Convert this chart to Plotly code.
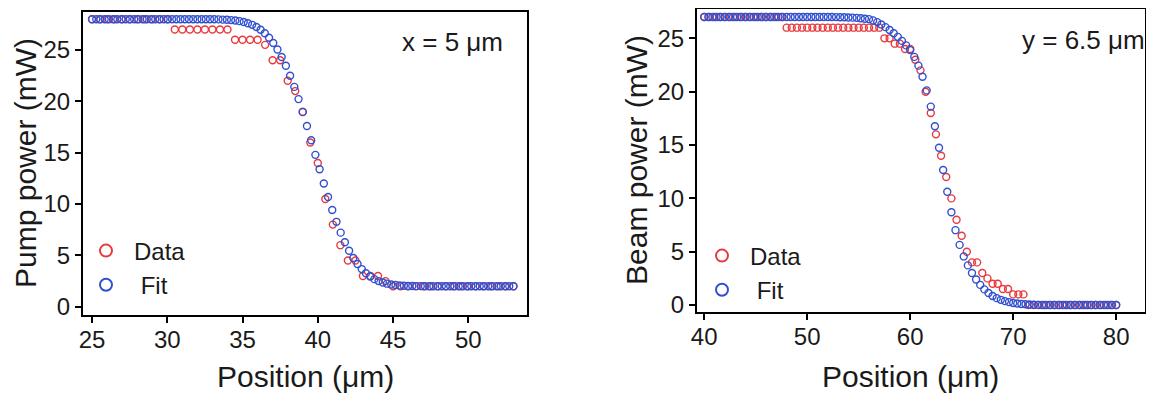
import plotly.graph_objects as go

# ---------------- data ----------------
# Left panel: pump power vs position at x = 5 um
pump_data_start, pump_data_step = 25.0, 0.5
pump_data = [28, 28, 28, 28, 28, 28, 28, 28, 28, 28, 28,
             27, 27, 27, 27, 27, 27, 27, 27,
             26, 26, 26, 26,
             25.5, 24, 24, 22, 21, 19, 16, 14, 10.5, 8, 6, 4.5, 4.5, 3, 3, 3, 2.5,
             2, 2, 2, 2, 2, 2, 2, 2, 2, 2, 2, 2, 2, 2, 2, 2, 2]
pump_fit_start, pump_fit_step = 25.0, 0.28
pump_fit = [28.0, 28.0, 28.0, 28.0, 28.0, 28.0, 28.0, 28.0, 28.0, 28.0,
            28.0, 28.0, 28.0, 28.0, 28.0, 28.0, 28.0, 28.0, 28.0, 28.0,
            28.0, 28.0, 28.0, 28.0, 28.0, 28.0, 28.0, 28.0,
            27.99, 27.99, 27.98, 27.96, 27.94, 27.91, 27.87, 27.81, 27.72, 27.61,
            27.45, 27.24, 26.97, 26.63, 26.20, 25.68, 25.05, 24.32, 23.46, 22.50,
            21.41, 20.22, 18.95, 17.60, 16.21, 14.79, 13.39, 12.01, 10.69, 9.43,
            8.27, 7.22, 6.28, 5.46, 4.75, 4.16, 3.67, 3.27, 2.95, 2.69,
            2.50, 2.36, 2.25, 2.17, 2.12, 2.08, 2.05, 2.03, 2.02, 2.01, 2.01,
            2.0, 2.0, 2.0, 2.0, 2.0, 2.0, 2.0, 2.0, 2.0, 2.0, 2.0,
            2.0, 2.0, 2.0, 2.0, 2.0, 2.0, 2.0, 2.0, 2.0, 2.0, 2.0]

# Right panel: beam power vs position at y = 6.5 um
beam_data_start, beam_data_step = 40.0, 0.5
beam_data = [27, 27, 27, 27, 27, 27, 27, 27, 27, 27, 27, 27, 27, 27, 27, 27,
             26, 26, 26, 26, 26, 26, 26, 26, 26, 26, 26, 26, 26, 26, 26, 26, 26, 26, 26,
             25, 25, 24.5, 24.5, 24, 24, 23, 22, 20, 18, 16, 14, 12, 10, 8, 6.5, 5, 4, 4, 3,
             2.5, 2, 2, 1.5, 1.5, 1, 1, 1,
             0, 0, 0, 0, 0, 0, 0, 0, 0, 0, 0, 0, 0, 0, 0, 0, 0, 0]
beam_fit_start, beam_fit_step = 40.0, 0.4
beam_fit = [27.0, 27.0, 27.0, 27.0, 27.0, 27.0, 27.0, 27.0, 27.0, 27.0,
            27.0, 27.0, 27.0, 27.0, 27.0, 27.0, 27.0, 27.0, 27.0, 27.0,
            27.0, 27.0, 27.0, 27.0, 27.0, 27.0, 27.0, 27.0, 27.0, 27.0,
            27.0, 27.0,
            26.99, 26.98, 26.97, 26.95, 26.94, 26.92, 26.88, 26.84, 26.80, 26.68,
            26.52, 26.30, 26.05, 25.78, 25.48, 25.14, 24.76, 24.34, 23.90, 23.26,
            22.44, 21.40, 20.12, 18.60, 16.76, 14.74, 12.66, 10.62, 8.70, 7.02,
            5.64, 4.56, 3.72, 3.00, 2.40, 1.89, 1.47, 1.13, 0.85, 0.65,
            0.49, 0.37, 0.28, 0.20, 0.14, 0.10, 0.07, 0.05, 0.03, 0.02,
            0.01, 0.01,
            0.0, 0.0, 0.0, 0.0, 0.0, 0.0, 0.0, 0.0, 0.0, 0.0,
            0.0, 0.0, 0.0, 0.0, 0.0, 0.0, 0.0]

legend_names = ["Data", "\u00a0Fit"]
x_title = "Position (\u03bcm)"
left_y_title = "Pump power (mW)"
right_y_title = "Beam power (mW)"
left_label = "x = 5 \u03bcm"
right_label = "y = 6.5 \u03bcm"

# ---------------- style ----------------
RED = "#e8383c"
BLUE = "#3050d0"
FONT = "Arial, 'Liberation Sans', sans-serif"
TXT = "#1a1a1a"


def marker(color):
    return dict(symbol="circle-open", size=7, color=color, line=dict(color=color, width=1.4))


fig = go.Figure()
fig.add_trace(go.Scatter(x0=pump_data_start, dx=pump_data_step, y=pump_data, mode="markers",
                         marker=marker(RED), name=legend_names[0], legend="legend",
                         xaxis="x", yaxis="y"))
fig.add_trace(go.Scatter(x0=pump_fit_start, dx=pump_fit_step, y=pump_fit, mode="markers",
                         marker=marker(BLUE), name=legend_names[1], legend="legend",
                         xaxis="x", yaxis="y"))
fig.add_trace(go.Scatter(x0=beam_data_start, dx=beam_data_step, y=beam_data, mode="markers",
                         marker=marker(RED), name=legend_names[0], legend="legend2",
                         xaxis="x2", yaxis="y2"))
fig.add_trace(go.Scatter(x0=beam_fit_start, dx=beam_fit_step, y=beam_fit, mode="markers",
                         marker=marker(BLUE), name=legend_names[1], legend="legend2",
                         xaxis="x2", yaxis="y2"))

# The page places the figure 8 px in from the window's top-left corner.
OFF = 8
WIN_W, WIN_H = 1154, 396
W, H = WIN_W - OFF, WIN_H - OFF


def px_x(p):
    return (p - OFF) / W


def px_y(p):
    return (WIN_H - p) / H


axis_common = dict(showline=True, linewidth=2, linecolor="black", mirror=True,
                   ticks="outside", ticklen=6, tickwidth=2, tickcolor="black",
                   showgrid=False, zeroline=False, automargin=False,
                   tickfont=dict(size=24, color=TXT, family=FONT))

fig.update_layout(
    width=W, height=H,
    margin=dict(l=0, r=0, t=0, b=0, autoexpand=False),
    paper_bgcolor="white", plot_bgcolor="white",
    font=dict(family=FONT, color=TXT),
    xaxis=dict(domain=[px_x(83), px_x(527)], range=[24.4, 53.9], tickvals=[25, 30, 35, 40, 45, 50],
               anchor="y", ticklabelstandoff=-4, **axis_common),
    yaxis=dict(domain=[px_y(315), px_y(12)], range=[-0.8, 28.7], tickvals=[0, 5, 10, 15, 20, 25],
               anchor="x", **axis_common),
    xaxis2=dict(domain=[px_x(697), px_x(1145)], range=[39.3, 82.8], tickvals=[40, 50, 60, 70, 80],
                anchor="y2", ticklabelstandoff=-4, **axis_common),
    yaxis2=dict(domain=[px_y(312), px_y(9)], range=[-0.65, 27.75], tickvals=[0, 5, 10, 15, 20, 25],
                anchor="x2", **axis_common),
    legend=dict(x=px_x(78), y=px_y(268), xanchor="left", yanchor="middle",
                bgcolor="rgba(0,0,0,0)", itemsizing="constant", itemwidth=46,
                font=dict(size=24, color=TXT, family=FONT)),
    legend2=dict(x=px_x(694), y=px_y(273), xanchor="left", yanchor="middle",
                 bgcolor="rgba(0,0,0,0)", itemsizing="constant", itemwidth=46,
                 font=dict(size=24, color=TXT, family=FONT)),
    annotations=[
        dict(text=left_label, x=px_x(452), y=px_y(42), xref="paper", yref="paper",
             xanchor="center", yanchor="middle",
             showarrow=False, font=dict(size=26, color=TXT, family=FONT)),
        dict(text=right_label, x=px_x(1083), y=px_y(40), xref="paper", yref="paper",
             xanchor="center", yanchor="middle",
             showarrow=False, font=dict(size=26, color=TXT, family=FONT)),
        # axis titles
        dict(text=x_title, x=px_x(305), y=px_y(376), xref="paper", yref="paper",
             xanchor="center", yanchor="middle",
             showarrow=False, font=dict(size=30, color=TXT, family=FONT)),
        dict(text=x_title, x=px_x(910), y=px_y(376), xref="paper", yref="paper",
             xanchor="center", yanchor="middle",
             showarrow=False, font=dict(size=30, color=TXT, family=FONT)),
        dict(text=left_y_title, x=px_x(25), y=px_y(163), xref="paper", yref="paper",
             xanchor="center", yanchor="middle", textangle=-90,
             showarrow=False, font=dict(size=30, color=TXT, family=FONT)),
        dict(text=right_y_title, x=px_x(636), y=px_y(160), xref="paper", yref="paper",
             xanchor="center", yanchor="middle", textangle=-90,
             showarrow=False, font=dict(size=30, color=TXT, family=FONT)),
    ],
)

fig.write_html("out.html")
